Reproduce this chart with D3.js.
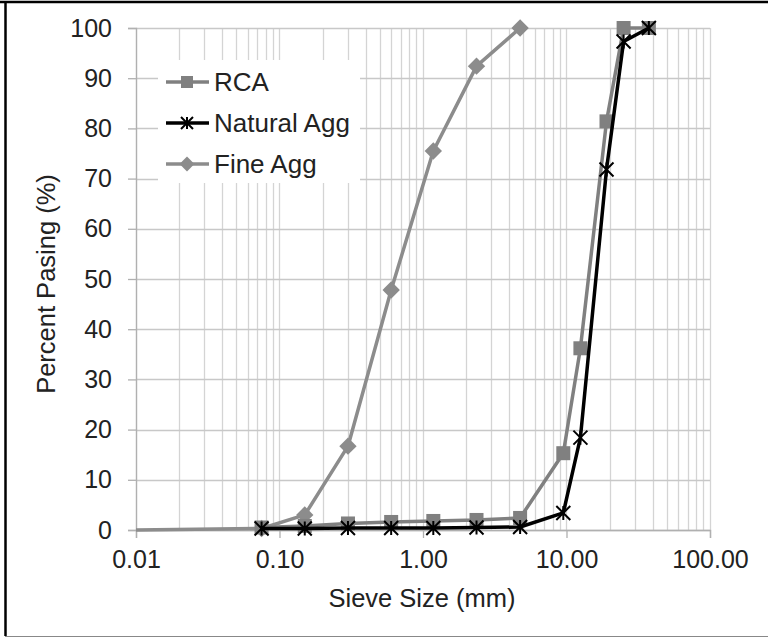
<!DOCTYPE html>
<meta charset="utf-8">
<style>
body { margin: 0; background: #fff; }
text { font-family: "Liberation Sans", Arial, sans-serif; fill: #222; }
</style>
<body>
<script src="https://d3js.org/d3.v7.min.js"></script>
<script>

// sieve sizes (mm)
var sieves = [0.075, 0.15, 0.3, 0.6, 1.18, 2.36, 4.75, 9.5, 12.5, 19, 25, 37.5];
// percent passing per material
var rca = [0.5, 0.8, 1.3, 1.6, 1.8, 2.0, 2.4, 15.3, 36.2, 81.4, 100, 100];
var natural = [0.3, 0.3, 0.4, 0.4, 0.4, 0.5, 0.6, 3.4, 18.4, 71.8, 97.3, 100];
// fine agg stops at 4.75, its line starts at the pan value 0.01
var fineSieves = [0.01, 0.075, 0.15, 0.3, 0.6, 1.18, 2.36, 4.75];
var fine = [0, 0.3, 3.0, 16.7, 47.8, 75.5, 92.4, 100];

var xTicks = [0.01, 0.1, 1, 10, 100];
var yTicks = [0, 10, 20, 30, 40, 50, 60, 70, 80, 90, 100];

var W = 768, H = 638;
var margin = {top: 28, right: 58, bottom: 108, left: 136},
    width = W - margin.left - margin.right,
    height = H - margin.top - margin.bottom;

var x = d3.scaleLog().domain([0.01, 100]).range([0, width]);
var y = d3.scaleLinear().domain([0, 100]).range([height, 0]);

var svg = d3.select("body").append("svg")
    .attr("width", W)
    .attr("height", H);

// outer frame
svg.append("line").attr("x1", 0).attr("x2", W).attr("y1", 2).attr("y2", 2)
    .style("stroke", "#000").style("stroke-width", 2.5);
svg.append("line").attr("x1", 5.5).attr("x2", 5.5).attr("y1", 1).attr("y2", 636)
    .style("stroke", "#000").style("stroke-width", 2.5);
svg.append("line").attr("x1", 5).attr("x2", W).attr("y1", 636.5).attr("y2", 636.5)
    .style("stroke", "#888").style("stroke-width", 1);

var g = svg.append("g")
    .attr("transform", "translate(" + margin.left + "," + margin.top + ")");

// minor + major vertical gridlines
var vgrid = [];
for (var p = -2; p < 2; p++) {
  for (var m = 1; m <= 9; m++) vgrid.push(m * Math.pow(10, p));
}
vgrid.push(100);
g.selectAll(".vg").data(vgrid).enter().append("line")
    .attr("class", "vg")
    .attr("x1", function(d) { return Math.round(x(d)) + 0.5; })
    .attr("x2", function(d) { return Math.round(x(d)) + 0.5; })
    .attr("y1", 0).attr("y2", height)
    .style("stroke", "#d4d4d4").style("stroke-width", 1.3);

g.selectAll(".hg").data(yTicks).enter().append("line")
    .attr("class", "hg")
    .attr("x1", 0).attr("x2", width)
    .attr("y1", function(d) { return Math.round(y(d)) + 0.5; })
    .attr("y2", function(d) { return Math.round(y(d)) + 0.5; })
    .style("stroke", "#c8c8c8").style("stroke-width", 1.3);

// axes
var yAxis = g.append("g")
    .call(d3.axisLeft(y).tickValues(yTicks).tickSize(8).tickPadding(16));
var xAxis = g.append("g")
    .attr("transform", "translate(0," + height + ")")
    .call(d3.axisBottom(x).tickValues(xTicks).tickSize(8).tickPadding(12)
      .tickFormat(d3.format(".2f")));
[yAxis, xAxis].forEach(function(a) {
  a.select(".domain").style("stroke", "#b0b0b0").style("stroke-width", 1.3);
  a.selectAll(".tick line").style("stroke", "#b0b0b0").style("stroke-width", 1.3);
  a.selectAll(".tick text").style("font-size", "25px").style("fill", "#222")
    .style("font-family", "'Liberation Sans', Arial, sans-serif");
});

// legend background
var lg = g.append("g").attr("transform", "translate(22,32)");
lg.append("rect").attr("x", 0).attr("y", 0).attr("width", 202).attr("height", 123)
    .style("fill", "#fff");

var series = [
  {name: "RCA", xs: sieves, ys: rca, color: "#808080", width: 3.5, sym: "square"},
  {name: "Natural Agg", xs: sieves, ys: natural, color: "#000", width: 3.5, sym: "star"},
  {name: "Fine Agg", xs: fineSieves, ys: fine, color: "#8c8c8c", width: 3.5, sym: "diamond"}
];

function drawMarker(sel, s, size) {
  if (s.sym === "square") {
    sel.append("rect").attr("x", -size / 2).attr("y", -size / 2)
      .attr("width", size).attr("height", size).style("fill", s.color);
  } else if (s.sym === "diamond") {
    var r = size * 0.62;
    sel.append("path").attr("d", "M0," + (-r) + "L" + r + ",0L0," + r + "L" + (-r) + ",0Z")
      .style("fill", s.color);
  } else {
    var a = size / 2;
    sel.append("path")
      .attr("d", "M" + (-a) + "," + (-a) + "L" + a + "," + a +
                 "M" + (-a) + "," + a + "L" + a + "," + (-a) +
                 "M0," + (-a) + "L0," + a)
      .style("stroke", s.color).style("stroke-width", 2).style("fill", "none");
  }
}

var line = d3.line()
    .x(function(d) { return x(d[0]); })
    .y(function(d) { return y(d[1]); });

// draw Fine first, then RCA, then Natural on top
[series[2], series[0], series[1]].forEach(function(s) {
  var pts = s.xs.map(function(v, i) { return [v, s.ys[i]]; });
  g.append("path").datum(pts)
    .attr("d", line)
    .style("fill", "none").style("stroke", s.color)
    .style("stroke-width", s.width).style("stroke-linejoin", "round");
  g.selectAll(null).data(pts.filter(function(d) { return d[0] >= 0.075; }))
    .enter().append("g")
    .attr("transform", function(d) { return "translate(" + x(d[0]) + "," + y(d[1]) + ")"; })
    .each(function() { drawMarker(d3.select(this), s, 14); });
});

// legend entries
series.forEach(function(s, i) {
  var ly = 22 + i * 41;
  lg.append("line").attr("x1", 8).attr("x2", 51).attr("y1", ly).attr("y2", ly)
    .style("stroke", s.color).style("stroke-width", s.width);
  drawMarker(lg.append("g").attr("transform", "translate(29," + ly + ")"), s, 12);
  lg.append("text").attr("x", 56).attr("y", ly + 9)
    .style("font-size", "26px").text(s.name);
});

// axis titles
svg.append("text")
    .attr("x", margin.left + width / 2 - 1).attr("y", 607)
    .attr("text-anchor", "middle").style("font-size", "25.5px")
    .text("Sieve Size (mm)");
svg.append("text")
    .attr("transform", "translate(55," + (margin.top + height / 2 + 5) + ") rotate(-90)")
    .attr("text-anchor", "middle").style("font-size", "25.5px")
    .text("Percent Pasing (%)");

</script>
